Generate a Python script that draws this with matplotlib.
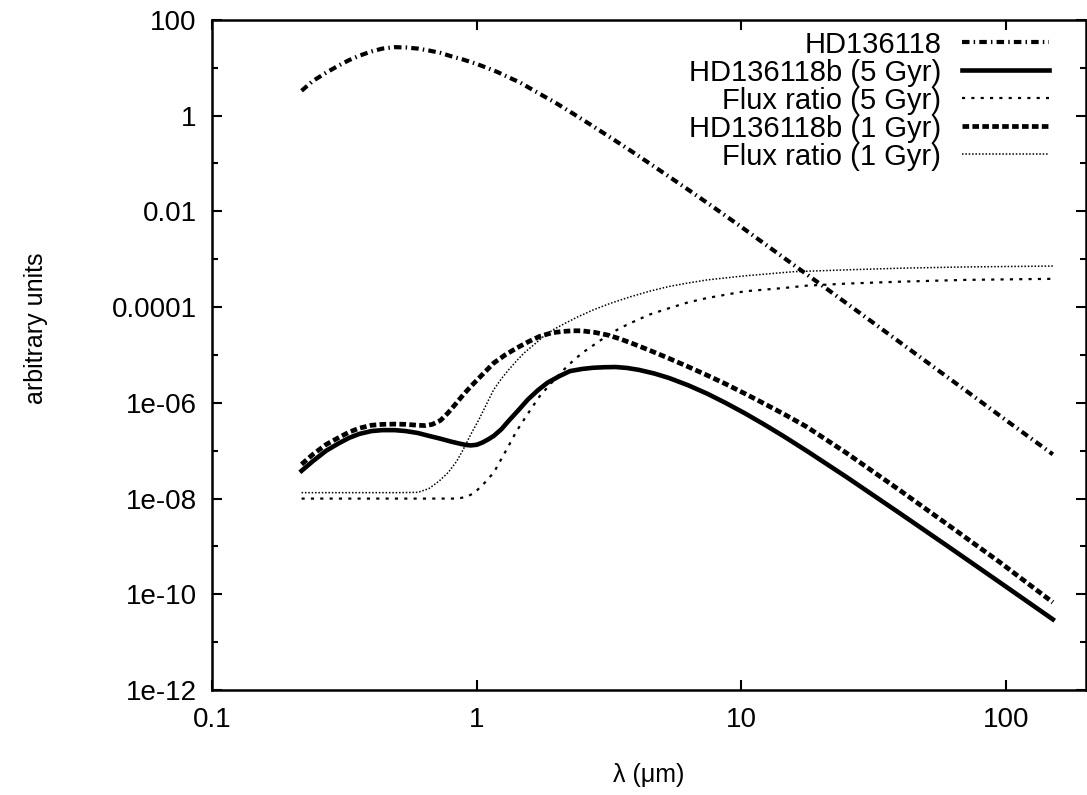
import matplotlib
matplotlib.use('Agg')
import matplotlib.pyplot as plt

plt.rcParams['font.family'] = ['Liberation Sans', 'DejaVu Sans']

# wavelength (um) and fluxes (arbitrary units)
star_wl = [0.218, 0.24, 0.27, 0.30, 0.33, 0.36, 0.40, 0.44, 0.49, 0.54, 0.60, 0.66, 0.73,
           0.80, 0.89, 1.0, 1.09, 1.2, 1.32, 1.46, 1.62, 1.78, 1.97, 2.3, 2.75, 3.25, 3.83,
           4.5, 5.33, 6.3, 7.43, 8.6, 10, 13.5, 17, 20, 30, 50, 70, 100, 150]
star_flux = [3.3, 5.25, 7.9, 11.0, 14.5, 17.8, 21.9, 25.1, 26.9, 26.5, 25.1, 22.9, 20.4,
             17.4, 14.8, 12.0, 10.0, 8.1, 6.3, 4.9, 3.5, 2.6, 1.9, 1.12, 0.60, 0.33, 0.182,
             0.10, 5.3e-2, 2.82e-2, 1.5e-2, 8.5e-3, 4.7e-3, 1.41e-3, 5.6e-4, 2.93e-4, 5.7e-5,
             7.2e-6, 1.84e-6, 4.3e-7, 8.4e-8]

p5_wl = [0.218, 0.24, 0.27, 0.30, 0.33, 0.36, 0.40, 0.44, 0.49, 0.54, 0.60, 0.66, 0.73,
         0.80, 0.86, 0.91, 0.95, 1.0, 1.05, 1.1, 1.16, 1.24, 1.32, 1.44, 1.56, 1.7, 1.85,
         2.05, 2.25, 2.5, 2.75, 3.05, 3.35, 3.7, 4.1, 4.7, 5.33, 6.3, 7.43, 8.7, 10.3,
         12.2, 14.4, 17.9, 25, 39.5, 60, 94, 150]
p5_flux = [3.8e-8, 6.0e-8, 1.0e-7, 1.41e-7, 1.86e-7, 2.24e-7, 2.57e-7, 2.69e-7, 2.69e-7,
           2.57e-7, 2.34e-7, 2.04e-7, 1.78e-7, 1.55e-7, 1.41e-7, 1.32e-7, 1.29e-7, 1.33e-7,
           1.48e-7, 1.7e-7, 2.04e-7, 2.82e-7, 4.2e-7, 7.1e-7, 1.17e-6, 1.82e-6, 2.63e-6,
           3.6e-6, 4.6e-6, 5.1e-6, 5.4e-6, 5.55e-6, 5.6e-6, 5.35e-6, 4.88e-6, 4.08e-6,
           3.3e-6, 2.32e-6, 1.55e-6, 1.0e-6, 6.05e-7, 3.52e-7, 2.02e-7, 9.4e-8, 2.79e-8,
           5.0e-9, 1.02e-9, 1.82e-10, 3.0e-11]

r5_wl = [0.218, 0.5, 0.85, 0.92, 0.98, 1.06, 1.16, 1.24, 1.32, 1.41, 1.51, 1.62, 1.73,
         1.85, 1.97, 2.14, 2.33, 2.53, 2.75, 3.0, 3.24, 3.5, 3.83, 4.5, 5.33, 6.3, 7.43,
         10.3, 14.4, 17.6, 25, 40, 70, 150]
r5_flux = [1.0e-8, 1.0e-8, 1.0e-8, 1.1e-8, 1.32e-8, 2.0e-8, 3.5e-8, 6.8e-8, 1.26e-7,
           2.5e-7, 4.5e-7, 8.1e-7, 1.38e-6, 2.1e-6, 3.1e-6, 5.0e-6, 7.9e-6, 1.15e-5,
           1.58e-5, 2.2e-5, 2.9e-5, 3.7e-5, 4.7e-5, 7.0e-5, 9.5e-5, 1.26e-4, 1.55e-4,
           2.14e-4, 2.5e-4, 2.8e-4, 3.1e-4, 3.4e-4, 3.7e-4, 3.9e-4]

p1_wl = [0.218, 0.24, 0.27, 0.30, 0.33, 0.36, 0.40, 0.44, 0.49, 0.54, 0.60, 0.64, 0.68,
         0.73, 0.78, 0.83, 0.89, 0.95, 1.02, 1.09, 1.16, 1.28, 1.42, 1.57, 1.73, 1.92,
         2.11, 2.3, 2.49, 2.8, 3.13, 3.45, 3.83, 4.5, 5.33, 6.3, 7.43, 8.7, 10.3, 12.2,
         14.4, 17.6, 25, 39.5, 60, 94, 150]
p1_flux = [5.2e-8, 8.3e-8, 1.35e-7, 1.86e-7, 2.45e-7, 2.95e-7, 3.4e-7, 3.55e-7, 3.6e-7,
           3.55e-7, 3.4e-7, 3.35e-7, 3.55e-7, 4.3e-7, 6.2e-7, 9.3e-7, 1.48e-6, 2.2e-6,
           3.3e-6, 4.8e-6, 6.8e-6, 1.0e-5, 1.41e-5, 1.9e-5, 2.45e-5, 2.9e-5, 3.1e-5,
           3.2e-5, 3.2e-5, 2.95e-5, 2.6e-5, 2.2e-5, 1.78e-5, 1.25e-5, 8.45e-6, 5.66e-6,
           3.75e-6, 2.49e-6, 1.56e-6, 9.6e-7, 5.9e-7, 3.18e-7, 8.85e-8, 1.51e-8, 2.88e-9,
           4.8e-10, 6.8e-11]

r1_wl = [0.218, 0.5, 0.6, 0.66, 0.72, 0.78, 0.84, 0.89, 0.95, 1.02, 1.09, 1.16, 1.24,
         1.32, 1.41, 1.51, 1.65, 1.79, 1.95, 2.11, 2.4, 2.75, 3.2, 3.83, 4.5, 5.33, 6.3,
         7.43, 10.3, 15.8, 25, 40, 70, 150]
r1_flux = [1.33e-8, 1.33e-8, 1.35e-8, 1.62e-8, 2.3e-8, 3.5e-8, 6.0e-8, 1.07e-7, 2.2e-7,
           4.5e-7, 9.5e-7, 1.9e-6, 3.2e-6, 4.9e-6, 7.4e-6, 1.1e-5, 1.66e-5, 2.45e-5,
           3.4e-5, 4.3e-5, 6.2e-5, 8.7e-5, 1.2e-4, 1.66e-4, 2.15e-4, 2.7e-4, 3.2e-4,
           3.7e-4, 4.5e-4, 5.5e-4, 6.0e-4, 6.5e-4, 6.9e-4, 7.2e-4]

labels = ['HD136118', 'HD136118b (5 Gyr)', 'Flux ratio (5 Gyr)',
          'HD136118b (1 Gyr)', 'Flux ratio (1 Gyr)']

xticks = [0.1, 1, 10, 100]
xtick_labels = ['0.1', '1', '10', '100']
yticks = [1e2, 1, 1e-2, 1e-4, 1e-6, 1e-8, 1e-10, 1e-12]
ytick_labels = ['100', '1', '0.01', '0.0001', '1e-06', '1e-08', '1e-10', '1e-12']
yminor = [1e1, 1e-1, 1e-3, 1e-5, 1e-7, 1e-9, 1e-11]

fig = plt.figure(figsize=(10.87, 7.95), dpi=100)
ax = fig.add_axes([0.195, 0.132, 0.804, 0.843])

ax.plot(star_wl, star_flux, color='black', lw=3.0, ls=(0, (1.8, 1.0, 0.35, 1.0)), label=labels[0])
ax.plot(p5_wl, p5_flux, color='black', lw=3.3, ls='-', label=labels[1])
ax.plot(r5_wl, r5_flux, color='black', lw=1.6, ls=(0, (1.4, 2.8)), label=labels[2])
ax.plot(p1_wl, p1_flux, color='black', lw=3.4, ls=(0, (1.4, 0.7)), label=labels[3])
ax.plot(r1_wl, r1_flux, color='black', lw=1.1, ls=(0, (1, 1.2)), label=labels[4])

ax.set_xscale('log')
ax.set_yscale('log')
ax.set_xlim(0.1, 200)
ax.set_ylim(1e-12, 100)

ax.set_xticks(xticks)
ax.set_xticklabels(xtick_labels)
ax.xaxis.set_minor_locator(matplotlib.ticker.NullLocator())
ax.set_yticks(yticks)
ax.set_yticklabels(ytick_labels)
ax.set_yticks(yminor, minor=True)
ax.yaxis.set_minor_formatter(matplotlib.ticker.NullFormatter())

ax.tick_params(which='both', direction='in', top=True, right=True, width=1.5, labelsize=20)
ax.tick_params(which='major', length=7)
ax.tick_params(which='minor', length=4)
ax.tick_params(axis='y', pad=11)
ax.tick_params(axis='x', pad=12)
for s in ax.spines.values():
    s.set_linewidth(1.8)

ax.set_xlabel('λ (μm)', fontsize=18, labelpad=22)
ax.set_ylabel('arbitrary units', fontsize=18, labelpad=46)
ax.yaxis.label.set_y(0.54)

leg = ax.legend(loc='upper right', bbox_to_anchor=(0.958, 0.984), frameon=False,
                markerfirst=False, fontsize=21, handlelength=3.0, handletextpad=0.7,
                labelspacing=0.0, borderpad=0, borderaxespad=0)

fig.savefig('out.png', dpi=100)
